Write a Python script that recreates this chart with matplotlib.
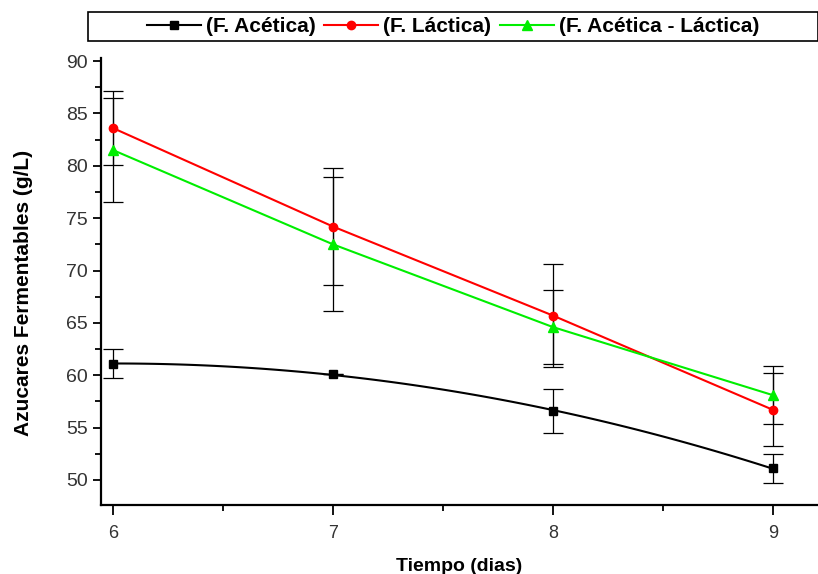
import matplotlib
matplotlib.use("Agg")
import matplotlib.pyplot as plt
import numpy as np
from matplotlib.ticker import MultipleLocator
from matplotlib.patches import Rectangle

dias = [6, 7, 8, 9]

acetica = [61.1, 60.1, 56.6, 51.1]
acetica_err = [1.4, 0.0, 2.1, 1.4]

lactica = [83.6, 74.2, 65.7, 56.7]
lactica_err = [3.5, 5.6, 4.9, 3.5]

mixta = [81.5, 72.5, 64.6, 58.1]
mixta_err = [5.0, 6.4, 3.5, 2.8]

plt.rcParams['font.family'] = ['Liberation Sans', 'DejaVu Sans']

fig = plt.figure(figsize=(8.18, 5.74), dpi=100)
ax = fig.add_axes([0.1235, 0.12, 0.8765, 0.779])

# black curve: quadratic fit through the measured points
coef = np.polyfit(dias, acetica, 2)
xs = np.linspace(dias[0], dias[-1], 100)
ax.plot(xs, np.polyval(coef, xs), color='black', lw=1.5, zorder=3)

ax.plot(dias, lactica, color='#ff0000', lw=1.5, zorder=3)
ax.plot(dias, mixta, color='#00ee00', lw=1.5, zorder=3)

for y, e in [(acetica, acetica_err), (lactica, lactica_err), (mixta, mixta_err)]:
    ax.errorbar(dias, y, yerr=e, fmt='none', ecolor='black', elinewidth=0.9,
                capsize=7, capthick=0.9, zorder=2)

ax.plot(dias, acetica, 's', color='black', ms=6, zorder=4)
ax.plot(dias, lactica, 'o', color='#ff0000', ms=6, zorder=4)
ax.plot(dias, mixta, '^', color='#00ee00', ms=7, zorder=4)

ax.set_xlim(5.945, 9.205)
ax.set_ylim(47.6, 90.3)
ax.xaxis.set_major_locator(MultipleLocator(1))
ax.xaxis.set_minor_locator(MultipleLocator(0.5))
ax.yaxis.set_major_locator(MultipleLocator(5))
ax.yaxis.set_minor_locator(MultipleLocator(2.5))
ax.tick_params(which='major', direction='out', length=6, width=1.3, labelsize=14,
               labelcolor='#333333')
ax.tick_params(axis='x', which='major', labelsize=13, length=7, pad=7)
ax.tick_params(which='minor', direction='out', length=4, width=1.3)

ax.spines['top'].set_visible(False)
ax.spines['right'].set_visible(False)
ax.spines['left'].set_linewidth(1.6)
ax.spines['bottom'].set_linewidth(1.6)

ax.set_xlabel('Tiempo (dias)', fontsize=14, fontweight='bold', labelpad=12)
ax.set_ylabel('Azucares Fermentables (g/L)', fontsize=15, fontweight='bold')
ax.yaxis.set_label_coords(-0.095, 0.474)

# legend box across the top
fig.patches.append(Rectangle((88 / 818, 1 - 41 / 574), 730 / 818, 29 / 574,
                             transform=fig.transFigure, fill=False,
                             edgecolor='black', lw=1.2))

h1 = plt.Line2D([], [], color='black', marker='s', ms=6, lw=1.5)
h2 = plt.Line2D([], [], color='#ff0000', marker='o', ms=6, lw=1.5)
h3 = plt.Line2D([], [], color='#00ee00', marker='^', ms=7, lw=1.5)
fig.legend([h1, h2, h3], ['(F. Acética)', '(F. Láctica)', '(F. Acética - Láctica)'],
           loc='center', bbox_to_anchor=(453 / 818, 1 - 26.5 / 574),
           ncol=3, frameon=False, handlelength=2.6, handletextpad=0.25,
           columnspacing=0.4, borderpad=0.2,
           prop={'weight': 'bold', 'size': 15})

fig.savefig('out.png', dpi=100)
